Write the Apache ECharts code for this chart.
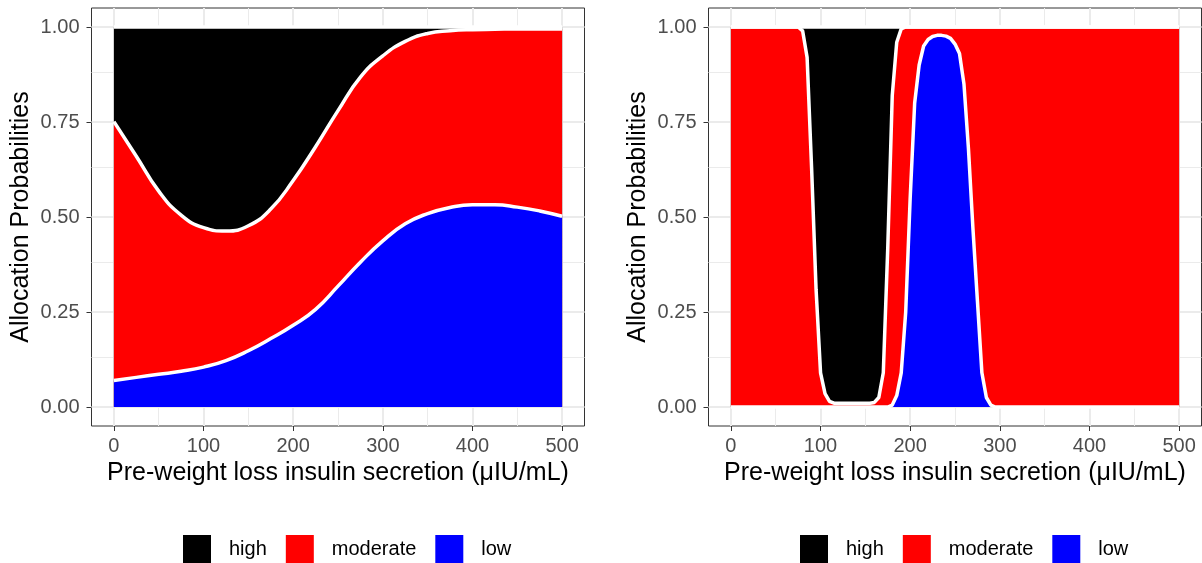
<!DOCTYPE html>
<html><head><meta charset="utf-8">
<script src="https://cdn.jsdelivr.net/npm/echarts@6/dist/echarts.min.js"></script>
<style>html,body{margin:0;padding:0;background:#fff}#c{width:1202px;height:563px}</style>
</head><body><div id="c"></div>
<script>
// ---- data ----
const categories = ['high', 'moderate', 'low'];
const colors = ['#000000', '#FF0000', '#0000FF'];
const xTickLabels = [0, 100, 200, 300, 400, 500];
const yTickLabels = [0, 0.25, 0.5, 0.75, 1];
const xMinorBreaks = [50, 150, 250, 350, 450];
const yMinorBreaks = [0.125, 0.375, 0.625, 0.875];
const xTitle = 'Pre-weight loss insulin secretion (\u03bcIU/mL)';
const yTitle = 'Allocation Probabilities';

// left panel
const xLeft = [0,25,50,75,100,125,150,175,200,225,250,275,300,325,350,375,400,425,450,475,500];
const highLeft = [0.249,0.340,0.432,0.495,0.528,0.537,0.523,0.479,0.404,0.315,0.220,0.132,0.076,0.038,0.017,0.010,0.007,0.006,0.005,0.005,0.005];
const moderateLeft = [0.681,0.582,0.482,0.411,0.367,0.341,0.329,0.341,0.381,0.428,0.462,0.487,0.487,0.480,0.474,0.465,0.461,0.462,0.469,0.479,0.493];
const lowLeft = [0.070,0.078,0.086,0.094,0.105,0.122,0.148,0.180,0.215,0.257,0.318,0.381,0.437,0.482,0.509,0.525,0.532,0.532,0.526,0.516,0.502];

// right panel
const xRight = [0,75,80,85,90,95,100,105,110,115,120,125,130,135,140,145,150,155,160,165,170,175,180,185,190,195,200,205,210,215,220,225,230,235,240,245,250,255,260,265,270,275,280,285,290,295,500];
const highRight = [0,0,0.01,0.08,0.37,0.69,0.91,0.965,0.985,0.99,0.99,0.99,0.99,0.99,0.99,0.99,0.99,0.99,0.988,0.975,0.91,0.58,0.18,0.04,0.005,0,0,0,0,0,0,0,0,0,0,0,0,0,0,0,0,0,0,0,0,0,0];
const moderateRight = [1,1,0.99,0.92,0.63,0.31,0.09,0.035,0.015,0.01,0.01,0.01,0.01,0.01,0.01,0.01,0.01,0.01,0.012,0.025,0.09,0.42,0.815,0.93,0.905,0.75,0.45,0.20,0.10,0.05,0.033,0.025,0.022,0.022,0.024,0.03,0.045,0.07,0.15,0.32,0.53,0.72,0.91,0.975,0.995,1,1];
const lowRight = [0,0,0,0,0,0,0,0,0,0,0,0,0,0,0,0,0,0,0,0,0,0,0.005,0.03,0.09,0.25,0.55,0.80,0.90,0.95,0.967,0.975,0.978,0.978,0.976,0.97,0.955,0.93,0.85,0.68,0.47,0.28,0.09,0.025,0.005,0,0];

// ---- layout ----
const FONT = 'Liberation Sans, Arial, Helvetica, sans-serif';
const panels = [
  { xs: xLeft, vals: [highLeft, moderateLeft, lowLeft], smooth: 0.5, left: 91.5, legendLeft: 183 },
  { xs: xRight, vals: [highRight, moderateRight, lowRight], smooth: false, left: 708.5, legendLeft: 800 }
];

const grid = [], xAxis = [], yAxis = [], series = [], legend = [];
panels.forEach((p, pi) => {
  grid.push({ left: p.left, top: 8, width: 493, height: 418, show: true,
    borderColor: '#333333', borderWidth: 1, backgroundColor: '#ffffff' });
  xAxis.push({ gridIndex: pi, type: 'value', min: -25, max: 525,
    axisLine: { show: false, onZero: false }, splitLine: { show: false },
    axisTick: { show: true, customValues: xTickLabels, length: 5, lineStyle: { color: '#333333', width: 1 } },
    axisLabel: { customValues: xTickLabels, fontSize: 20, color: '#4D4D4D', margin: 10, fontFamily: FONT },
    name: xTitle, nameLocation: 'middle', nameGap: 35,
    nameTextStyle: { fontSize: 25, color: '#000000', fontFamily: FONT } });
  yAxis.push({ gridIndex: pi, type: 'value', min: -0.05, max: 1.05,
    axisLine: { show: false, onZero: false }, splitLine: { show: false },
    axisTick: { show: true, customValues: yTickLabels, length: 5, lineStyle: { color: '#333333', width: 1 } },
    axisLabel: { customValues: yTickLabels, formatter: v => Number(v).toFixed(2), fontSize: 20,
      color: '#4D4D4D', margin: 12, fontFamily: FONT },
    name: yTitle, nameLocation: 'middle', nameGap: 58,
    nameTextStyle: { fontSize: 25, color: '#000000', fontFamily: FONT } });

  // background grid lines (theme_bw)
  const gl = [];
  xMinorBreaks.forEach(v => gl.push({ xAxis: v, lineStyle: { color: '#EBEBEB', width: 1, type: 'solid' } }));
  yMinorBreaks.forEach(v => gl.push({ yAxis: v, lineStyle: { color: '#EBEBEB', width: 1, type: 'solid' } }));
  xTickLabels.forEach(v => gl.push({ xAxis: v, lineStyle: { color: '#EBEBEB', width: 2, type: 'solid' } }));
  yTickLabels.forEach(v => gl.push({ yAxis: v, lineStyle: { color: '#EBEBEB', width: 2, type: 'solid' } }));
  series.push({ type: 'line', name: 'grid' + pi, xAxisIndex: pi, yAxisIndex: pi, data: [], z: 1, silent: true,
    markLine: { z: 1, zlevel: 0, silent: true, animation: false, symbol: ['none', 'none'], label: { show: false }, data: gl } });

  // stacked areas: cumulative values from the category arrays (high on top, low at bottom)
  const cum = p.vals.map((arr, k) => p.xs.map((x, i) => {
    let s = 0; for (let j = k; j < p.vals.length; j++) s += p.vals[j][i]; return s;
  }));
  categories.forEach((name, k) => {
    series.push({ type: 'line', name: name, xAxisIndex: pi, yAxisIndex: pi,
      data: p.xs.map((x, i) => [x, cum[k][i]]), smooth: p.smooth, symbol: 'none', showSymbol: false,
      lineStyle: { width: 0, color: colors[k] }, itemStyle: { color: colors[k] },
      areaStyle: { color: colors[k], opacity: 1 }, z: 2 + k * 0.01, silent: true });
  });
  categories.forEach((name, k) => {
    series.push({ type: 'line', name: name + ' outline', xAxisIndex: pi, yAxisIndex: pi,
      data: p.xs.map((x, i) => [x, cum[k][i]]), smooth: p.smooth, symbol: 'none', showSymbol: false,
      lineStyle: { width: 3.5, color: '#ffffff' }, z: 3, silent: true });
  });

  legend.push({ data: categories.map(n => ({ name: n, icon: 'rect' })), left: p.legendLeft, top: 535,
    padding: 0, orient: 'horizontal', itemWidth: 28, itemHeight: 28, itemGap: 19, selectedMode: false,
    itemStyle: { borderWidth: 0 }, lineStyle: { width: 0 },
    textStyle: { fontSize: 20, color: '#000000', fontFamily: FONT, padding: [0, 0, 0, 13] } });
});

const chart = echarts.init(document.getElementById('c'), null, { renderer: 'canvas' });
chart.setOption({ animation: false, backgroundColor: '#ffffff', textStyle: { fontFamily: FONT },
  grid, xAxis, yAxis, series, legend });
</script></body></html>
